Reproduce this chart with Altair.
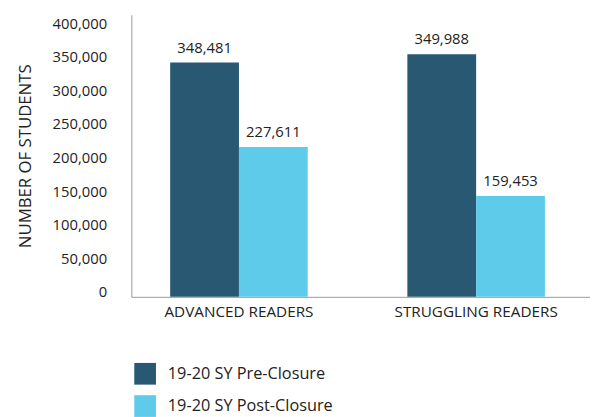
import altair as alt
import pandas as pd

categories = ["ADVANCED READERS", "STRUGGLING READERS"]
series = ["19-20 SY Pre-Closure", "19-20 SY Post-Closure"]
# bar heights as drawn in the picture
pre_values = [349000, 361000]
post_values = [223000, 150000]
# printed labels
pre_labels = ["348,481", "349,988"]
post_labels = ["227,611", "159,453"]
y_ticks = [0, 50000, 100000, 150000, 200000, 250000, 300000, 350000, 400000]
colors = ["#285872", "#5ECBEA"]

rows = []
for i, c in enumerate(categories):
    rows.append({"cat": c, "series": series[0], "value": pre_values[i], "label": pre_labels[i]})
    rows.append({"cat": c, "series": series[1], "value": post_values[i], "label": post_labels[i]})
df = pd.DataFrame(rows)

FONT = "Open Sans"

x = alt.X("cat:N", sort=categories, title=None,
          scale=alt.Scale(paddingInner=0.42, paddingOuter=0.177, align=0.463),
          axis=alt.Axis(labelAngle=0, ticks=False, labelPadding=8, labelFontSize=15.5,
                        labelColor="#222", domainColor="#999", labelFont=FONT))
xo = alt.XOffset("series:N", sort=series, scale=alt.Scale(paddingInner=0, paddingOuter=0))
y = alt.Y("value:Q", scale=alt.Scale(domain=[0, 420000], nice=False),
          title="NUMBER OF STUDENTS",
          axis=alt.Axis(values=y_ticks, format=",.0f", grid=False, ticks=False,
                        labelOverlap=False, labelPadding=25, labelOffset=-5,
                        labelFontSize=15, labelColor="#222", labelFont=FONT,
                        titleFont=FONT, titleFontSize=17, titleFontWeight="normal",
                        titleColor="#222", titlePadding=18, domainColor="#999"))

bars = alt.Chart(df).mark_bar().encode(
    x=x, xOffset=xo, y=y,
    color=alt.Color("series:N", sort=series, scale=alt.Scale(domain=series, range=colors),
                    legend=alt.Legend(title=None, orient="none", legendX=3, legendY=353,
                                      symbolType="square", symbolSize=484, symbolStrokeWidth=0,
                                      labelFontSize=16.5, labelFont=FONT, labelColor="#222",
                                      labelOffset=12, labelLimit=400, rowPadding=10.7, padding=0,
                                      direction="vertical")),
)

text = alt.Chart(df).mark_text(baseline="middle", dy=-15, fontSize=15, font=FONT, color="#222").encode(
    x=x, xOffset=xo, y=y, text="label:N"
)

chart = (bars + text).properties(
    width=465, height=286,
    autosize=alt.AutoSizeParams(type="none"),
    padding={"left": 125, "top": 4, "right": 0, "bottom": 119},
).configure_view(stroke=None).configure_axis(labelOverlap=False)

chart.save("out.html", embed_options={"renderer": "svg", "actions": False})
